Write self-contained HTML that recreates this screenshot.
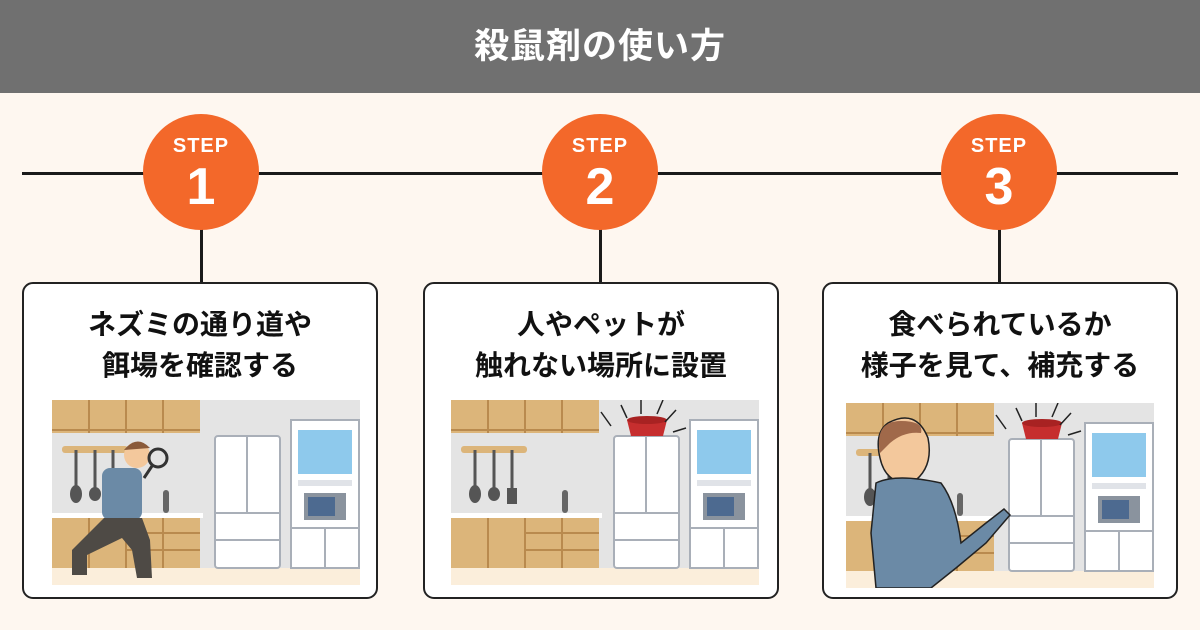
<!DOCTYPE html>
<html><head><meta charset="utf-8"><style>
body{margin:0;width:1200px;height:630px;overflow:hidden;background:#fef7f0;font-family:"Liberation Sans","Noto Sans CJK JP",sans-serif;}
.hdr{position:absolute;left:0;top:0;width:1200px;height:93px;background:#707070;color:#fff;font-weight:bold;font-size:35px;text-align:center;line-height:93px;letter-spacing:1px}
.hl{position:absolute;left:22px;top:172px;width:1156px;height:3px;background:#1a1a1a}
.vl{position:absolute;top:220px;width:3px;height:62px;background:#1a1a1a}
.c{position:absolute;top:114px;width:116px;height:116px;border-radius:50%;background:#f3682a;color:#fff;text-align:center;font-weight:bold}
.c .s{position:absolute;top:21px;width:100%;font-size:20px;letter-spacing:1px}
.c .n{position:absolute;top:43px;width:100%;font-size:52px}
.b{position:absolute;top:282px;width:352px;height:313px;background:#fff;border:2px solid #222;border-radius:11px}
.t{position:absolute;top:20px;width:100%;text-align:center;font-weight:bold;font-size:28px;line-height:41px;color:#111}
svg.k{position:absolute}
</style></head><body>
<div class="hdr">殺鼠剤の使い方</div>
<div class="hl"></div>
<div class="vl" style="left:200px"></div><div class="vl" style="left:599px"></div><div class="vl" style="left:998px"></div>
<div class="c" style="left:143px"><div class="s">STEP</div><div class="n">1</div></div>
<div class="c" style="left:542px"><div class="s">STEP</div><div class="n">2</div></div>
<div class="c" style="left:941px"><div class="s">STEP</div><div class="n">3</div></div>
<div class="b" style="left:22px"><div class="t">ネズミの通り道や<br>餌場を確認する</div></div>
<div class="b" style="left:423px"><div class="t">人やペットが<br>触れない場所に設置</div></div>
<div class="b" style="left:822px"><div class="t">食べられているか<br>様子を見て、補充する</div></div>
<svg width="0" height="0" style="position:absolute"><defs>
<g id="kit">
<rect x="0" y="0" width="308" height="185" fill="#e4e4e4"/>
<rect x="0" y="168" width="308" height="17" fill="#fbeedb"/>
<rect x="0" y="0" width="148" height="33" fill="#dcb57a"/>
<path d="M37 0V33M74 0V33M111 0V33M0 30H148" stroke="#b98a4e" stroke-width="2"/>
<rect x="10" y="46" width="66" height="7" rx="3" fill="#dcb57a"/>
<path d="M24 50V90M43 50V90M61 50V90" stroke="#555" stroke-width="3"/>
<ellipse cx="24" cy="94" rx="6" ry="9" fill="#555"/><ellipse cx="43" cy="94" rx="6" ry="7" fill="#555"/><rect x="56" y="88" width="10" height="16" fill="#555"/>
<rect x="0" y="113" width="151" height="5" fill="#fff"/>
<rect x="0" y="118" width="148" height="50" fill="#dcb57a"/>
<path d="M37 118V168M74 118V168M111 118V168M74 133H148M74 150H148" stroke="#b98a4e" stroke-width="2"/>
<rect x="111" y="90" width="6" height="23" rx="3" fill="#666"/>
<rect x="163" y="36" width="65" height="132" rx="3" fill="#fff" stroke="#a9afb8" stroke-width="2"/>
<path d="M195 36V113M163 113H228M163 140H228" stroke="#a9afb8" stroke-width="2"/>
<rect x="239" y="20" width="68" height="148" fill="#fff" stroke="#a9afb8" stroke-width="2"/>
<rect x="246" y="30" width="54" height="44" fill="#8ec9ec"/>
<rect x="246" y="80" width="54" height="6" fill="#e0e3e8"/>
<rect x="252" y="93" width="42" height="27" fill="#8a939e"/><rect x="256" y="97" width="27" height="19" fill="#4d6a90"/>
<path d="M239 128H307M273 128V168" stroke="#a9afb8" stroke-width="2"/>
</g>
<g id="bowl"><path d="M0 0H40L36 16H4Z" fill="#c62e2e"/><ellipse cx="20" cy="0" rx="20" ry="4" fill="#a82222"/></g>
</defs></svg>
<svg class="k" style="left:52px;top:400px" width="308" height="185"><use href="#kit"/>
<g><circle cx="85" cy="55" r="13" fill="#f3c89c"/><path d="M72 50Q85 34 98 48" fill="#8a5a3a"/><rect x="50" y="68" width="40" height="52" rx="8" fill="#6b8aa6"/><path d="M52 118L20 150L20 175L35 175L35 155L70 138L80 150L85 178H100L98 140L90 118Z" fill="#4e4a45"/><circle cx="106" cy="58" r="9" fill="none" stroke="#333" stroke-width="3"/><path d="M100 66L92 78" stroke="#333" stroke-width="3"/></g></svg>
<svg class="k" style="left:451px;top:400px" width="308" height="185"><use href="#kit"/><use href="#bowl" x="176" y="20"/>
<path d="M150 12L160 26M170 5L176 18M190 0V14M212 0L206 14M225 10L214 22M235 28L222 32" stroke="#222" stroke-width="1.5"/></svg>
<svg class="k" style="left:846px;top:403px" width="308" height="185"><use href="#kit"/><use href="#bowl" x="176" y="20"/>
<path d="M150 12L160 26M170 5L176 18M190 0V14M212 0L206 14M225 10L214 22M235 28L222 32" stroke="#222" stroke-width="1.5"/>
<path d="M42 20Q70 5 82 35Q88 65 66 80Q40 82 34 55Q28 30 42 20Z" fill="#f3c89c" stroke="#222" stroke-width="1.5"/>
<path d="M34 50Q28 18 55 18Q78 18 75 30Q58 28 44 40Z" fill="#a0694a"/>
<path d="M30 80Q50 70 95 80Q110 100 115 140L140 120L158 106L164 112L140 140L110 165L85 185H30L25 130Z" fill="#6b8aa6" stroke="#222" stroke-width="1.5"/>
</svg>
</body></html>
